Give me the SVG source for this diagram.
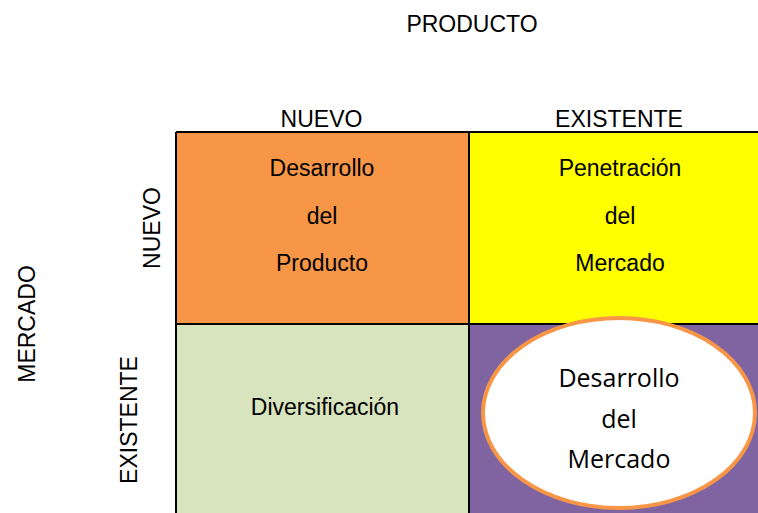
<svg xmlns="http://www.w3.org/2000/svg" width="758" height="513" viewBox="0 0 758 513">
<style>
.t{font-family:"Liberation Sans",Arial,sans-serif;font-size:23px;fill:#000;text-anchor:middle}
.c{font-family:"Open Sans","Noto Sans",sans-serif;font-size:25px;fill:#000;text-anchor:middle}
.ln{stroke:#000;stroke-width:2;fill:none}
</style>
<rect width="758" height="513" fill="#fff"/>
<text class="t" x="472" y="32">PRODUCTO</text>
<text class="t" x="321.5" y="127">NUEVO</text>
<text class="t" x="619" y="127">EXISTENTE</text>
<text class="t" transform="translate(35,324) rotate(-90)">MERCADO</text>
<text class="t" transform="translate(160,228) rotate(-90)">NUEVO</text>
<text class="t" transform="translate(137,420) rotate(-90)">EXISTENTE</text>
<g id="desarrollo-producto">
<rect x="176" y="132" width="293" height="192" fill="#F79646"/>
<text class="t" x="322" y="176">Desarrollo</text>
<text class="t" x="322" y="224">del</text>
<text class="t" x="322" y="271">Producto</text>
</g>
<g id="penetracion-mercado">
<rect x="469" y="132" width="295" height="192" fill="#FFFF00"/>
<text class="t" x="620" y="176">Penetración</text>
<text class="t" x="620" y="224">del</text>
<text class="t" x="620" y="271">Mercado</text>
</g>
<g id="diversificacion">
<rect x="176" y="324" width="293" height="195" fill="#D7E4BD"/>
<text class="t" x="325" y="415">Diversificación</text>
</g>
<g id="mercado-cell">
<rect x="469" y="324" width="295" height="195" fill="#8064A2"/>
</g>
<g id="connectors">
<path class="ln" d="M176 132H764M176 324H764M176 132V519M469 132V519"/>
</g>
<g id="desarrollo-mercado">
<ellipse cx="619" cy="413" rx="136" ry="95" fill="#fff" stroke="#F79646" stroke-width="4"/>
<text class="c" x="619" y="387">Desarrollo</text>
<text class="c" x="619" y="428">del</text>
<text class="c" x="619" y="468">Mercado</text>
</g>
</svg>
